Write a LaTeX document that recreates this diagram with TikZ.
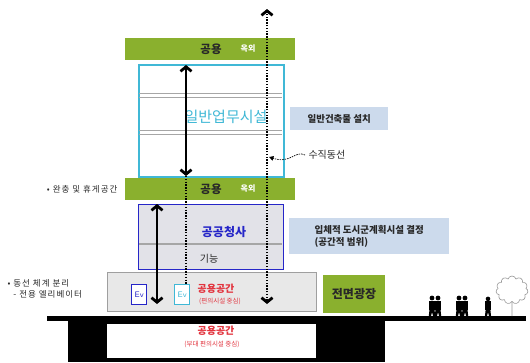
\documentclass[tikz,border=0pt]{standalone}
\usepackage{fontspec}
\newfontfamily\kr{Noto Sans CJK KR}
\newfontfamily\krwide{Noto Sans CJK KR}[LetterSpace=12]
\usetikzlibrary{arrows.meta,shapes.symbols}

\definecolor{barGreen}{RGB}{138,176,46}
\definecolor{officeCyan}{RGB}{64,184,214}
\definecolor{civicBlue}{RGB}{38,38,200}
\definecolor{noteBlue}{RGB}{204,218,236}
\definecolor{spaceRed}{RGB}{226,52,62}
\definecolor{floorGray}{RGB}{232,232,232}
\definecolor{civicFill}{RGB}{226,226,232}
\definecolor{darkText}{RGB}{40,40,40}

\tikzset{
  chev/.tip={Straight Barb[length=4.5pt,width=11pt,line width=2.8pt]},
  box/.style={rectangle, inner sep=0pt, anchor=north west},
  greenbar/.style={box, fill=barGreen},
  floorline/.style={draw=gray!70, line width=0.8pt},
  flow/.style={line width=1.5pt, dash pattern=on 1.4pt off 1.4pt},
  lift/.style={line width=1.4pt},
  label/.style={font=\kr\bfseries\fontsize{11.5}{12}\selectfont, text=darkText},
  tag/.style={font=\kr\bfseries\fontsize{8}{9}\selectfont, text=white},
  note/.style={box, fill=noteBlue, font=\kr\bfseries\fontsize{9.5}{11.5}\selectfont,
    text=darkText, align=left, inner xsep=6pt},
  side/.style={font=\krwide\fontsize{8.5}{11}\selectfont, text=darkText, align=left},
  redbig/.style={font=\kr\bfseries\fontsize{10}{11}\selectfont, text=spaceRed},
  redsmall/.style={font=\kr\fontsize{6.5}{7}\selectfont, text=spaceRed},
  evbox/.style={box, draw, line width=1.4pt, fill=white, minimum width=15pt,
    minimum height=20pt, font=\sffamily\fontsize{8}{9}\selectfont},
}

\begin{document}
\begin{tikzpicture}[x=1pt,y=-1pt]
\useasboundingbox[fill=white] (0,0) rectangle (530,362);

% office tower
\node[box, draw=officeCyan, line width=1.6pt, minimum width=145pt, minimum height=112pt] (office) at (138,64) {};
\foreach \yy in {93,97,130,134}
  \draw[floorline] (139,\yy) -- (282,\yy);
\node[font=\kr\fontsize{15}{16}\selectfont, text=officeCyan] (officeText) at (226,117) {일반업무시설};

% shared floors
\node[greenbar, minimum width=170pt, minimum height=22pt] (roof) at (125,38) {};
\node[label] (roofA) at (211,49) {공용};
\node[tag] (roofB) at (248,48.5) {옥외};
\node[greenbar, minimum width=170pt, minimum height=22pt] (mid) at (125,178) {};
\node[label] (midA) at (211,189) {공용};
\node[tag] (midB) at (248,188.5) {옥외};

% public office block
\node[box, fill=civicFill, draw=civicBlue, line width=1.4pt, minimum width=145pt, minimum height=65pt] (civic) at (138,204) {};
\draw[draw=gray!70, line width=1.2pt] (139,244) -- (282,244);
\node[font=\kr\bfseries\fontsize{12}{13}\selectfont, text=civicBlue] (civicText) at (224,232) {공공청사};
\node[font=\kr\fontsize{10}{11}\selectfont, text=darkText] (civicFn) at (209,259) {기능};

% ground floor
\node[box, fill=floorGray, draw=gray!75, line width=0.8pt, minimum width=209pt, minimum height=39pt] (ground) at (107,272) {};
\node[evbox, draw=civicBlue, text=civicBlue] (evA) at (131,284) {Ev};
\node[evbox, draw=officeCyan, text=officeCyan] (evB) at (174,284) {Ev};
\node[redbig] (groundText) at (216,289) {공용공간};
\node[redsmall] (groundSub) at (220,301) {(편의시설 중심)};

% plaza
\node[box, fill=barGreen, minimum width=62pt, minimum height=38pt] (plaza) at (323,275) {};
\node[label, font=\kr\bfseries\fontsize{12}{13}\selectfont] (plazaText) at (354,294) {전면광장};

% ground line and basement
\fill[black] (47,316) rectangle (526,321);
\fill[black] (68,318) rectangle (385,362);
\node[box, fill=white, minimum width=209pt, minimum height=34pt] (base) at (107,324) {};
\node[redbig] (baseText) at (216,331) {공용공간};
\node[redsmall] (baseSub) at (212,344) {(부대 편의시설 중심)};

% labels on the right
\node[note, minimum width=98pt, minimum height=23pt] (noteA) at (290,107) {일반건축물 설치};
\node[note, minimum width=160pt, minimum height=36pt] (noteB) at (289,218) {입체적 도시군계획시설 결정\\(공간적 범위)};
\node[font=\kr\fontsize{10}{11}\selectfont, text=darkText, anchor=west] (vert) at (305,155) {수직동선};

% notes on the left
\node[side, anchor=east] (buffer) at (121,189) {• 완충 및 휴게공간};
\node[side, anchor=west] (sep) at (4,289) {• 동선 체계 분리\\\ \ - 전용 엘리베이터};

% circulation
\coordinate (topTip) at (267,9);
\coordinate (lowTip) at (267,304);
\draw[flow, chev-chev] (lowTip) -- (topTip);
\coordinate (officeTop) at (186,65);
\coordinate (officeBot) at (186,176);
\draw[lift, chev-chev] (officeTop) -- (officeBot);
\draw[flow] (officeBot) -- (evB.north -| officeBot);
\coordinate (civicTop) at (157,204);
\coordinate (civicBot) at (157,304);
\draw[lift, chev-chev] (civicTop) -- (civicBot);
\coordinate (vertHit) at (269,157);
\draw[line width=0.7pt, dash pattern=on 1.5pt off 1pt, -{Triangle[length=4.5pt,width=4.5pt]}]
  (vert.west) .. controls (295,150) and (291,164) .. (vertHit);

% people on the street
\tikzset{walker/.pic={
  \fill[black] (0,-18) circle (2.4);
  \fill[black] (-2.7,-15.3) rectangle (2.7,-6.5);
  \fill[black] (-2.5,-6.5) -- (-3.2,0) -- (-1,0) -- (0,-4) -- (1,0) -- (3.2,0) -- (2.5,-6.5) -- cycle;
}}
\pic (p1) at (432,316) {walker};
\pic (p2) at (438,316) {walker};
\pic (p3) at (459,316) {walker};
\pic (p4) at (465,316) {walker};
\pic[scale=0.95] (p5) at (488,316) {walker};

% tree
\node[cloud, cloud puffs=11, draw=gray!80, line width=0.6pt, minimum width=32pt, minimum height=28pt, aspect=1.1] (crown) at (512,290) {};
\draw[gray!80, line width=0.8pt] (crown.south) -- (512,316);
\end{tikzpicture}
\end{document}
